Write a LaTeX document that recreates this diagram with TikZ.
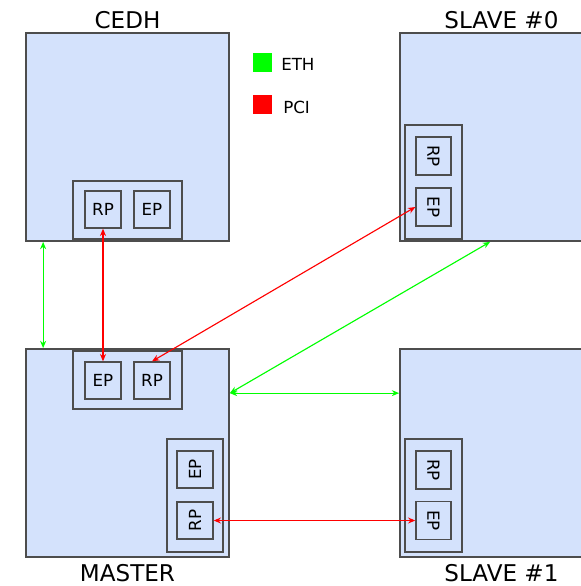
\documentclass[tikz,border=0pt]{standalone}
\usepackage{fontspec}
\setmainfont{DejaVu Sans}
\usetikzlibrary{arrows.meta}
\definecolor{boxfill}{HTML}{D4E2FC}
\definecolor{boxline}{HTML}{4D4D4D}
\definecolor{ethgreen}{HTML}{00FF00}
\definecolor{pcired}{HTML}{FF0000}
\def\px{0.75pt}
\tikzset{
  unit/.style={draw=boxline, fill=boxfill, line width=1.3pt, inner sep=0pt},
  host/.style={unit, minimum width=203*\px, minimum height=208*\px},
  portgrp/.style={draw=boxline, fill=boxfill, line width=1pt, inner sep=0pt},
  hgrp/.style={portgrp, minimum width=109*\px, minimum height=58*\px},
  vgrp/.style={portgrp, minimum width=57*\px, minimum height=114*\px},
  port/.style={draw=boxline, fill=boxfill, line width=1pt, inner sep=0pt,
    minimum width=36*\px, minimum height=37*\px, font=\fontsize{12.5}{14}\selectfont},
  title/.style={inner sep=0pt, anchor=base, font=\fontsize{17.3}{20}\selectfont},
  legtext/.style={inner sep=0pt, anchor=base west, font=\fontsize{12.5}{14}\selectfont},
  swatch/.style={inner sep=0pt, minimum size=19*\px},
  link/.style={line width=0.85pt, {Stealth[length=5.5pt,width=4.5pt]}-{Stealth[length=5.5pt,width=4.5pt]}},
  eth/.style={link, draw=ethgreen, color=ethgreen},
  pci/.style={link, draw=pcired, color=pcired},
}
\begin{document}
\begin{tikzpicture}[x=0.75pt, y=-0.75pt]
\useasboundingbox (0,0) rectangle (581,586);
\clip (0,0) rectangle (581,586);

% hosts
\node[host] (cedh)   at (127.5,137) {};
\node[host] (slave0) at (501.5,137) {};
\node[host] (master) at (127.5,453) {};
\node[host] (slave1) at (501.5,453) {};

\node[title] (cedhname)   at (127.5,28)  {CEDH};
\node[title] (slave0name) at (501.5,28)  {SLAVE \#0};
\node[title] (mastername) at (127.5,581) {MASTER};
\node[title] (slave1name) at (501.5,581) {SLAVE \#1};

% CEDH ports
\node[hgrp] (cedhgrp) at (127.5,210) {};
\node[port] (cedhrp) at (103,209.5) {RP};
\node[port] (cedhep) at (152,209.5) {EP};

% SLAVE #0 ports
\node[vgrp] (s0grp) at (433.5,182) {};
\node[port, minimum width=35*\px, minimum height=38*\px] (s0rp) at (433.5,156) {\rotatebox{-90}{RP}};
\node[port, minimum width=35*\px, minimum height=38*\px] (s0ep) at (433.5,207) {\rotatebox{-90}{EP}};

% MASTER ports
\node[hgrp] (mgrp1) at (127.5,380) {};
\node[port] (mep1) at (103,380.5) {EP};
\node[port] (mrp1) at (152,380.5) {RP};
\node[vgrp, minimum width=56*\px, minimum height=113*\px] (mgrp2) at (195,495.5) {};
\node[port] (mep2) at (195,469.5) {\rotatebox{90}{EP}};
\node[port] (mrp2) at (195,520.5) {\rotatebox{90}{RP}};

% SLAVE #1 ports
\node[vgrp, minimum height=113*\px] (s1grp) at (433.5,495.5) {};
\node[port, minimum width=35*\px, minimum height=38*\px] (s1rp) at (433.5,470) {\rotatebox{-90}{RP}};
\node[port, minimum width=35*\px, minimum height=38*\px] (s1ep) at (433.5,520.5) {\rotatebox{-90}{EP}};

% legend
\node[swatch, fill=ethgreen] (ethkey) at (262.5,62.5) {};
\node[swatch, fill=pcired]   (pcikey) at (262.5,104.5) {};
\node[legtext] (ethlabel) at (281,70)  {ETH};
\node[legtext] (pcilabel) at (283,113) {PCI};

% ethernet links
\draw[eth] ([xshift=18*\px]cedh.south west) -- ([xshift=18*\px]master.north west);
\draw[eth] ([yshift=-45*\px]master.north east) -- ([xshift=91*\px]slave0.south west);
\draw[eth] ([yshift=-45*\px]master.north east) -- ([yshift=-45*\px]slave1.north west);

% PCI links
\draw[pci] (cedhrp.south) -- (mep1.north);
\draw[pci] (mrp1.north) -- (s0ep.west);
\draw[pci] (mrp2.east) -- (s1ep.west);
\end{tikzpicture}
\end{document}
